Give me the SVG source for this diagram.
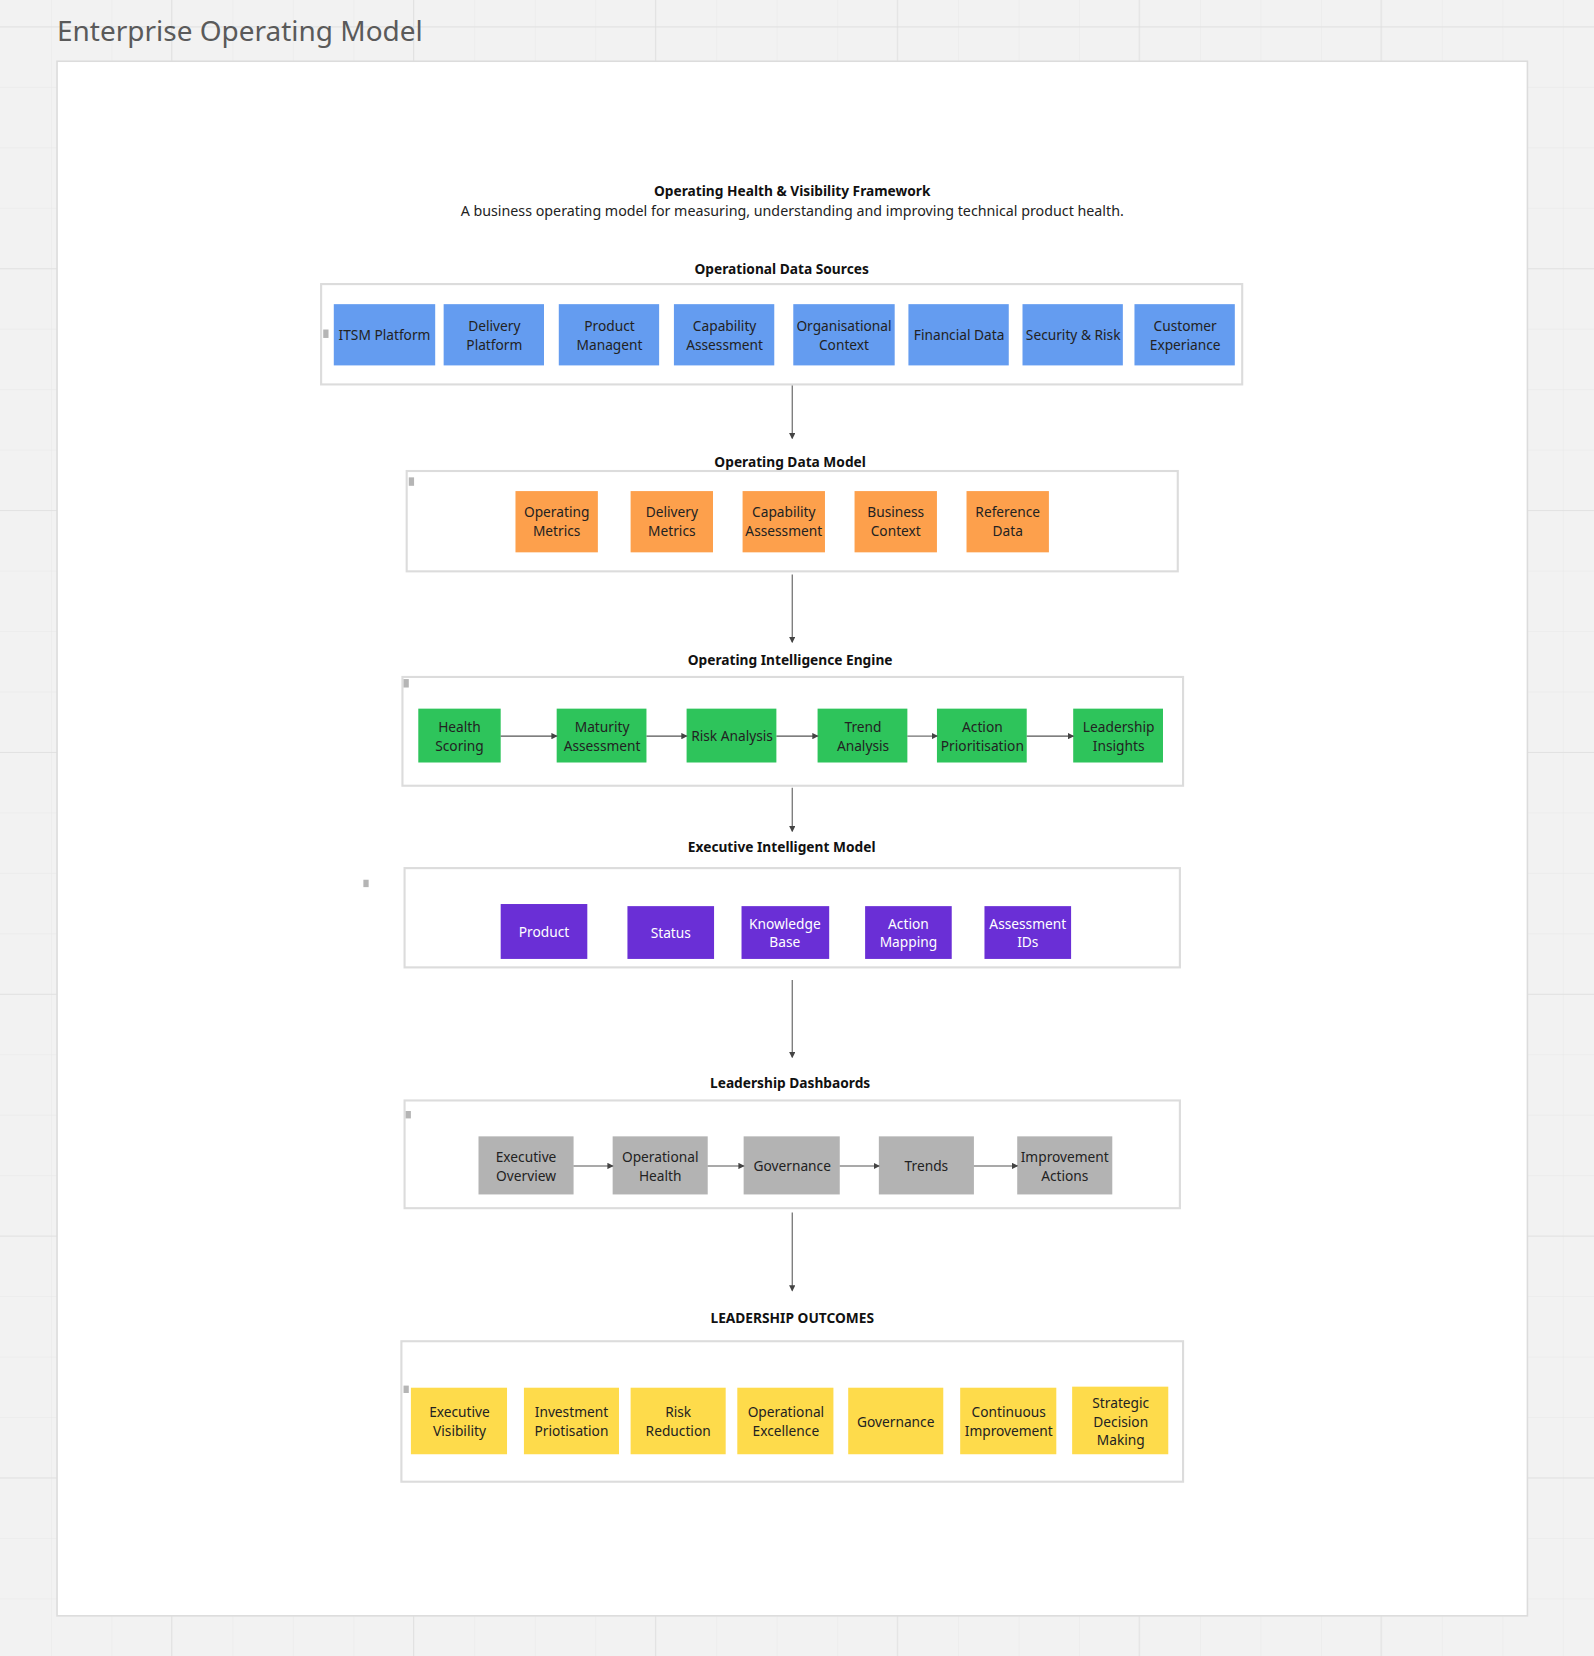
<svg xmlns="http://www.w3.org/2000/svg" width="1594" height="1656" viewBox="0 0 1594 1656">
<defs>
<pattern id="g" width="57.25" height="57.25" patternUnits="userSpaceOnUse" x="-9" y="25"><path d="M0 0H57.25M0 0V57.25" fill="none" stroke="#e8e8e8" stroke-width="1"/></pattern>
<pattern id="G" width="229" height="229" patternUnits="userSpaceOnUse" x="162" y="25"><path d="M0 0H229M0 0V229" fill="none" stroke="#dedede" stroke-width="1.5"/></pattern>
<marker id="a" markerWidth="6" markerHeight="6" refX="5" refY="3" orient="auto" markerUnits="userSpaceOnUse"><path d="M0 0L6 3L0 6z" fill="#444"/></marker>
<style>
text{font-family:"Noto Sans","Open Sans","DejaVu Sans",sans-serif;}
.h{font-size:13px;font-weight:bold;fill:#111;text-anchor:middle}
.s{font-size:13.5px;fill:#222;text-anchor:middle}
.t{font-size:13px;fill:#222;text-anchor:middle}
.w{font-size:13px;fill:#fff;text-anchor:middle}
.c{fill:#fff;stroke:#dcdcdc;stroke-width:2}
.b{fill:#649cf0}.o{fill:#fda04c}.gr{fill:#2ec45b}.p{fill:#6a2fd6}.gy{fill:#b3b3b3}.y{fill:#fedb4b}
.m{fill:#b5b5b5}
.l{stroke:#555;stroke-width:1;fill:none;marker-end:url(#a)}
</style>
</defs>
<rect width="1594" height="1656" fill="#f2f2f2"/>
<g transform="scale(1.0563,1.0561)">
<rect width="1510" height="1570" fill="url(#g)"/>
<rect width="1510" height="1570" fill="url(#G)"/>
<text x="54" y="39" font-size="26.5" fill="#5a5a5a">Enterprise Operating Model</text>
<rect x="54" y="58" width="1392" height="1472" fill="#fff" stroke="#dcdcdc" stroke-width="1.5"/>
<text class="h" x="750" y="186" font-size="13.3">Operating Health &amp; Visibility Framework</text>
<text class="s" x="750" y="205">A business operating model for measuring, understanding and improving technical product health.</text>

<g id="sources">
<text class="h" x="740" y="259">Operational Data Sources</text>
<rect class="c" x="304" y="269" width="872" height="95"/>
<rect class="m" x="306" y="312" width="5" height="8"/>
<rect class="b" x="316" y="288" width="96" height="58"/><text class="t" x="364" y="322">ITSM Platform</text>
<rect class="b" x="420" y="288" width="95" height="58"/><text class="t" x="468" y="313">Delivery</text><text class="t" x="468" y="331">Platform</text>
<rect class="b" x="529" y="288" width="95" height="58"/><text class="t" x="577" y="313">Product</text><text class="t" x="577" y="331">Managent</text>
<rect class="b" x="638" y="288" width="95" height="58"/><text class="t" x="686" y="313">Capability</text><text class="t" x="686" y="331">Assessment</text>
<rect class="b" x="751" y="288" width="96" height="58"/><text class="t" x="799" y="313">Organisational</text><text class="t" x="799" y="331">Context</text>
<rect class="b" x="860" y="288" width="95" height="58"/><text class="t" x="908" y="322">Financial Data</text>
<rect class="b" x="968" y="288" width="95" height="58"/><text class="t" x="1016" y="322">Security &amp; Risk</text>
<rect class="b" x="1074" y="288" width="95" height="58"/><text class="t" x="1122" y="313">Customer</text><text class="t" x="1122" y="331">Experiance</text>
</g>

<g id="datamodel">
<text class="h" x="748" y="442">Operating Data Model</text>
<rect class="c" x="385" y="446" width="730" height="95"/>
<rect class="m" x="387" y="452" width="5" height="8"/>
<rect class="o" x="488" y="465" width="78" height="58"/><text class="t" x="527" y="490">Operating</text><text class="t" x="527" y="508">Metrics</text>
<rect class="o" x="597" y="465" width="78" height="58"/><text class="t" x="636" y="490">Delivery</text><text class="t" x="636" y="508">Metrics</text>
<rect class="o" x="703" y="465" width="78" height="58"/><text class="t" x="742" y="490">Capability</text><text class="t" x="742" y="508">Assessment</text>
<rect class="o" x="809" y="465" width="78" height="58"/><text class="t" x="848" y="490">Business</text><text class="t" x="848" y="508">Context</text>
<rect class="o" x="915" y="465" width="78" height="58"/><text class="t" x="954" y="490">Reference</text><text class="t" x="954" y="508">Data</text>
</g>

<g id="engine">
<text class="h" x="748" y="630">Operating Intelligence Engine</text>
<rect class="c" x="381" y="641" width="739" height="103"/>
<rect class="m" x="382" y="643" width="5" height="8"/>
<rect class="gr" x="396" y="671" width="78" height="51"/><text class="t" x="435" y="693">Health</text><text class="t" x="435" y="711">Scoring</text>
<rect class="gr" x="527" y="671" width="85" height="51"/><text class="t" x="570" y="693">Maturity</text><text class="t" x="570" y="711">Assessment</text>
<rect class="gr" x="650" y="671" width="85" height="51"/><text class="t" x="693" y="702">Risk Analysis</text>
<rect class="gr" x="774" y="671" width="85" height="51"/><text class="t" x="817" y="693">Trend</text><text class="t" x="817" y="711">Analysis</text>
<rect class="gr" x="887" y="671" width="85" height="51"/><text class="t" x="930" y="693">Action</text><text class="t" x="930" y="711">Prioritisation</text>
<rect class="gr" x="1016" y="671" width="85" height="51"/><text class="t" x="1059" y="693">Leadership</text><text class="t" x="1059" y="711">Insights</text>
</g>

<g id="executive">
<text class="h" x="740" y="807">Executive Intelligent Model</text>
<rect class="c" x="383" y="822" width="734" height="94"/>
<rect class="m" x="344" y="833" width="5" height="7"/>
<rect class="p" x="474" y="856" width="82" height="52"/><text class="w" x="515" y="887">Product</text>
<rect class="p" x="594" y="858" width="82" height="50"/><text class="w" x="635" y="888">Status</text>
<rect class="p" x="702" y="858" width="83" height="50"/><text class="w" x="743" y="880">Knowledge</text><text class="w" x="743" y="897">Base</text>
<rect class="p" x="819" y="858" width="82" height="50"/><text class="w" x="860" y="880">Action</text><text class="w" x="860" y="897">Mapping</text>
<rect class="p" x="932" y="858" width="82" height="50"/><text class="w" x="973" y="880">Assessment</text><text class="w" x="973" y="897">IDs</text>
</g>

<g id="dashboards">
<text class="h" x="748" y="1030">Leadership Dashbaords</text>
<rect class="c" x="383" y="1042" width="734" height="102"/>
<rect class="m" x="384" y="1052" width="5" height="7"/>
<rect class="gy" x="453" y="1076" width="90" height="55"/><text class="t" x="498" y="1100">Executive</text><text class="t" x="498" y="1118">Overview</text>
<rect class="gy" x="580" y="1076" width="90" height="55"/><text class="t" x="625" y="1100">Operational</text><text class="t" x="625" y="1118">Health</text>
<rect class="gy" x="704" y="1076" width="91" height="55"/><text class="t" x="750" y="1109">Governance</text>
<rect class="gy" x="832" y="1076" width="90" height="55"/><text class="t" x="877" y="1109">Trends</text>
<rect class="gy" x="963" y="1076" width="90" height="55"/><text class="t" x="1008" y="1100">Improvement</text><text class="t" x="1008" y="1118">Actions</text>
</g>

<g id="outcomes">
<text class="h" x="750" y="1253">LEADERSHIP OUTCOMES</text>
<rect class="c" x="380" y="1270" width="740" height="133"/>
<rect class="m" x="382" y="1312" width="5" height="7"/>
<rect class="y" x="389" y="1314" width="91" height="63"/><text class="t" x="435" y="1342">Executive</text><text class="t" x="435" y="1360">Visibility</text>
<rect class="y" x="496" y="1314" width="90" height="63"/><text class="t" x="541" y="1342">Investment</text><text class="t" x="541" y="1360">Priotisation</text>
<rect class="y" x="597" y="1314" width="90" height="63"/><text class="t" x="642" y="1342">Risk</text><text class="t" x="642" y="1360">Reduction</text>
<rect class="y" x="698" y="1314" width="91" height="63"/><text class="t" x="744" y="1342">Operational</text><text class="t" x="744" y="1360">Excellence</text>
<rect class="y" x="803" y="1314" width="90" height="63"/><text class="t" x="848" y="1351">Governance</text>
<rect class="y" x="909" y="1314" width="91" height="63"/><text class="t" x="955" y="1342">Continuous</text><text class="t" x="955" y="1360">Improvement</text>
<rect class="y" x="1015" y="1313" width="91" height="64"/><text class="t" x="1061" y="1333">Strategic</text><text class="t" x="1061" y="1351">Decision</text><text class="t" x="1061" y="1368">Making</text>
</g>

<g id="connectors">
<path class="l" d="M750 365V415"/>
<path class="l" d="M750 544V608"/>
<path class="l" d="M750 746V787"/>
<path class="l" d="M750 928V1001"/>
<path class="l" d="M750 1148V1222"/>
<path class="l" d="M474 697H527"/>
<path class="l" d="M612 697H650"/>
<path class="l" d="M735 697H774"/>
<path class="l" d="M859 697H887"/>
<path class="l" d="M972 697H1016"/>
<path class="l" d="M543 1104H580"/>
<path class="l" d="M670 1104H704"/>
<path class="l" d="M795 1104H832"/>
<path class="l" d="M922 1104H963"/>
</g>
</g>
</svg>
